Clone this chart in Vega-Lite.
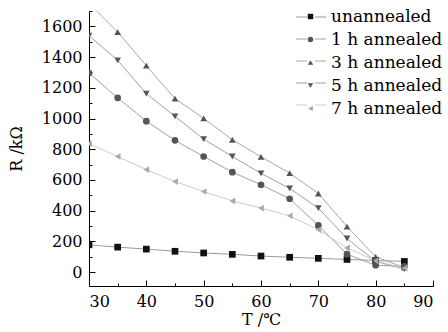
{
  "$schema": "https://vega.github.io/schema/vega-lite/v6.json",
  "width": 344,
  "height": 275,
  "autosize": {"type": "none"},
  "padding": {"left": 89, "top": 11, "right": 15, "bottom": 46},
  "background": "white",
  "config": {
    "view": {"stroke": null},
    "font": "DejaVu Serif",
    "legend": {"padding": 0}
  },
  "data": {
    "values": [
      {"T": 30, "R": 178, "s": "unannealed", "k": 0},
      {"T": 35, "R": 163, "s": "unannealed", "k": 0},
      {"T": 40, "R": 150, "s": "unannealed", "k": 0},
      {"T": 45, "R": 136, "s": "unannealed", "k": 0},
      {"T": 50, "R": 125, "s": "unannealed", "k": 0},
      {"T": 55, "R": 116, "s": "unannealed", "k": 0},
      {"T": 60, "R": 105, "s": "unannealed", "k": 0},
      {"T": 65, "R": 97, "s": "unannealed", "k": 0},
      {"T": 70, "R": 90, "s": "unannealed", "k": 0},
      {"T": 75, "R": 83, "s": "unannealed", "k": 0},
      {"T": 80, "R": 76, "s": "unannealed", "k": 0},
      {"T": 85, "R": 70, "s": "unannealed", "k": 0},
      {"T": 30, "R": 1296, "s": "1 h annealed", "k": 1},
      {"T": 35, "R": 1135, "s": "1 h annealed", "k": 1},
      {"T": 40, "R": 983, "s": "1 h annealed", "k": 1},
      {"T": 45, "R": 858, "s": "1 h annealed", "k": 1},
      {"T": 50, "R": 753, "s": "1 h annealed", "k": 1},
      {"T": 55, "R": 651, "s": "1 h annealed", "k": 1},
      {"T": 60, "R": 569, "s": "1 h annealed", "k": 1},
      {"T": 65, "R": 478, "s": "1 h annealed", "k": 1},
      {"T": 70, "R": 304, "s": "1 h annealed", "k": 1},
      {"T": 75, "R": 117, "s": "1 h annealed", "k": 1},
      {"T": 80, "R": 45, "s": "1 h annealed", "k": 1},
      {"T": 85, "R": 38, "s": "1 h annealed", "k": 1},
      {"T": 30, "R": 1750, "s": "3 h annealed", "k": 2},
      {"T": 35, "R": 1563, "s": "3 h annealed", "k": 2},
      {"T": 40, "R": 1344, "s": "3 h annealed", "k": 2},
      {"T": 45, "R": 1130, "s": "3 h annealed", "k": 2},
      {"T": 50, "R": 1001, "s": "3 h annealed", "k": 2},
      {"T": 55, "R": 862, "s": "3 h annealed", "k": 2},
      {"T": 60, "R": 751, "s": "3 h annealed", "k": 2},
      {"T": 65, "R": 645, "s": "3 h annealed", "k": 2},
      {"T": 70, "R": 512, "s": "3 h annealed", "k": 2},
      {"T": 75, "R": 297, "s": "3 h annealed", "k": 2},
      {"T": 80, "R": 100, "s": "3 h annealed", "k": 2},
      {"T": 85, "R": 30, "s": "3 h annealed", "k": 2},
      {"T": 30, "R": 1539, "s": "5 h annealed", "k": 3},
      {"T": 35, "R": 1379, "s": "5 h annealed", "k": 3},
      {"T": 40, "R": 1162, "s": "5 h annealed", "k": 3},
      {"T": 45, "R": 1014, "s": "5 h annealed", "k": 3},
      {"T": 50, "R": 866, "s": "5 h annealed", "k": 3},
      {"T": 55, "R": 753, "s": "5 h annealed", "k": 3},
      {"T": 60, "R": 643, "s": "5 h annealed", "k": 3},
      {"T": 65, "R": 545, "s": "5 h annealed", "k": 3},
      {"T": 70, "R": 417, "s": "5 h annealed", "k": 3},
      {"T": 75, "R": 219, "s": "5 h annealed", "k": 3},
      {"T": 80, "R": 70, "s": "5 h annealed", "k": 3},
      {"T": 85, "R": 20, "s": "5 h annealed", "k": 3},
      {"T": 30, "R": 836, "s": "7 h annealed", "k": 4},
      {"T": 35, "R": 753, "s": "7 h annealed", "k": 4},
      {"T": 40, "R": 667, "s": "7 h annealed", "k": 4},
      {"T": 45, "R": 590, "s": "7 h annealed", "k": 4},
      {"T": 50, "R": 525, "s": "7 h annealed", "k": 4},
      {"T": 55, "R": 464, "s": "7 h annealed", "k": 4},
      {"T": 60, "R": 417, "s": "7 h annealed", "k": 4},
      {"T": 65, "R": 367, "s": "7 h annealed", "k": 4},
      {"T": 70, "R": 276, "s": "7 h annealed", "k": 4},
      {"T": 75, "R": 158, "s": "7 h annealed", "k": 4},
      {"T": 80, "R": 74, "s": "7 h annealed", "k": 4},
      {"T": 85, "R": 26, "s": "7 h annealed", "k": 4}
    ]
  },
  "encoding": {
    "x": {
      "field": "T",
      "type": "quantitative",
      "scale": {"domain": [30, 90], "nice": false},
      "axis": {
        "values": [30, 35, 40, 45, 50, 55, 60, 65, 70, 75, 80, 85, 90],
        "labelExpr": "datum.value % 10 == 0 ? datum.label : ''",
        "tickSize": {"condition": {"test": "datum.value % 10 == 0", "value": -6}, "value": -3},
        "labelPadding": 13,
        "grid": false,
        "domainColor": "#000000",
        "tickColor": "#000000",
        "labelColor": "#000000",
        "labelFontSize": 16,
        "labelFont": "DejaVu Serif",
        "title": "T /℃",
        "titleFont": "DejaVu Serif",
        "titleFontSize": 16,
        "titleFontWeight": "normal",
        "titleColor": "#000000",
        "titlePadding": 2
      }
    },
    "y": {
      "field": "R",
      "type": "quantitative",
      "scale": {"domain": [-90, 1700], "nice": false, "zero": false},
      "axis": {
        "values": [0, 100, 200, 300, 400, 500, 600, 700, 800, 900, 1000, 1100, 1200, 1300, 1400, 1500, 1600, 1700],
        "format": "d",
        "labelExpr": "datum.value % 200 == 0 ? datum.label : ''",
        "tickSize": {"condition": {"test": "datum.value % 200 == 0", "value": -6}, "value": -3},
        "labelPadding": 13,
        "grid": false,
        "domainColor": "#000000",
        "tickColor": "#000000",
        "labelColor": "#000000",
        "labelFontSize": 16,
        "labelFont": "DejaVu Serif",
        "title": "R /kΩ",
        "titleFont": "DejaVu Serif",
        "titleFontSize": 16,
        "titleFontWeight": "normal",
        "titleColor": "#000000",
        "titlePadding": 17
      }
    }
  },
  "layer": [
    {
      "mark": {"type": "line", "clip": true, "strokeWidth": 1},
      "encoding": {
        "stroke": {
          "field": "s",
          "type": "nominal",
          "scale": {
            "domain": ["unannealed", "1 h annealed", "3 h annealed", "5 h annealed", "7 h annealed"],
            "range": ["#9a9a9a", "#a0a0a0", "#a8a8a8", "#a0a0a0", "#cdcdcd"]
          },
          "legend": {
            "orient": "none",
            "legendX": 213,
            "legendY": -3,
            "title": null,
            "symbolType": "M-1.76,0H-0.45M0.45,0H1.76",
            "symbolSize": 289,
            "symbolStrokeWidth": 1,
            "labelExpr": "''",
            "labelFontSize": 17,
            "labelOffset": 0,
            "rowPadding": 5
          }
        }
      }
    },
    {
      "mark": {"type": "point", "filled": true, "clip": true, "size": 45, "opacity": 1},
      "encoding": {
        "fill": {
          "field": "s",
          "type": "nominal",
          "sort": {"field": "k", "op": "min"},
          "scale": {"range": ["#111111", "#555555", "#555555", "#555555", "#aaaaaa"]},
          "legend": {
            "orient": "none",
            "legendX": 213,
            "legendY": -3,
            "title": null,
            "symbolSize": 30,
            "labelFontSize": 17,
            "labelFont": "DejaVu Serif",
            "labelColor": "#000000",
            "labelOffset": 12,
            "rowPadding": 5
          }
        },
        "shape": {
          "field": "s",
          "type": "nominal",
          "sort": {"field": "k", "op": "min"},
          "scale": {"range": ["square", "circle", "triangle-up", "triangle-down", "triangle-left"]},
          "legend": {
            "orient": "none",
            "legendX": 213,
            "legendY": -3,
            "title": null,
            "symbolSize": 30,
            "labelFontSize": 17,
            "labelFont": "DejaVu Serif",
            "labelColor": "#000000",
            "labelOffset": 12,
            "rowPadding": 5
          }
        }
      }
    }
  ]
}
